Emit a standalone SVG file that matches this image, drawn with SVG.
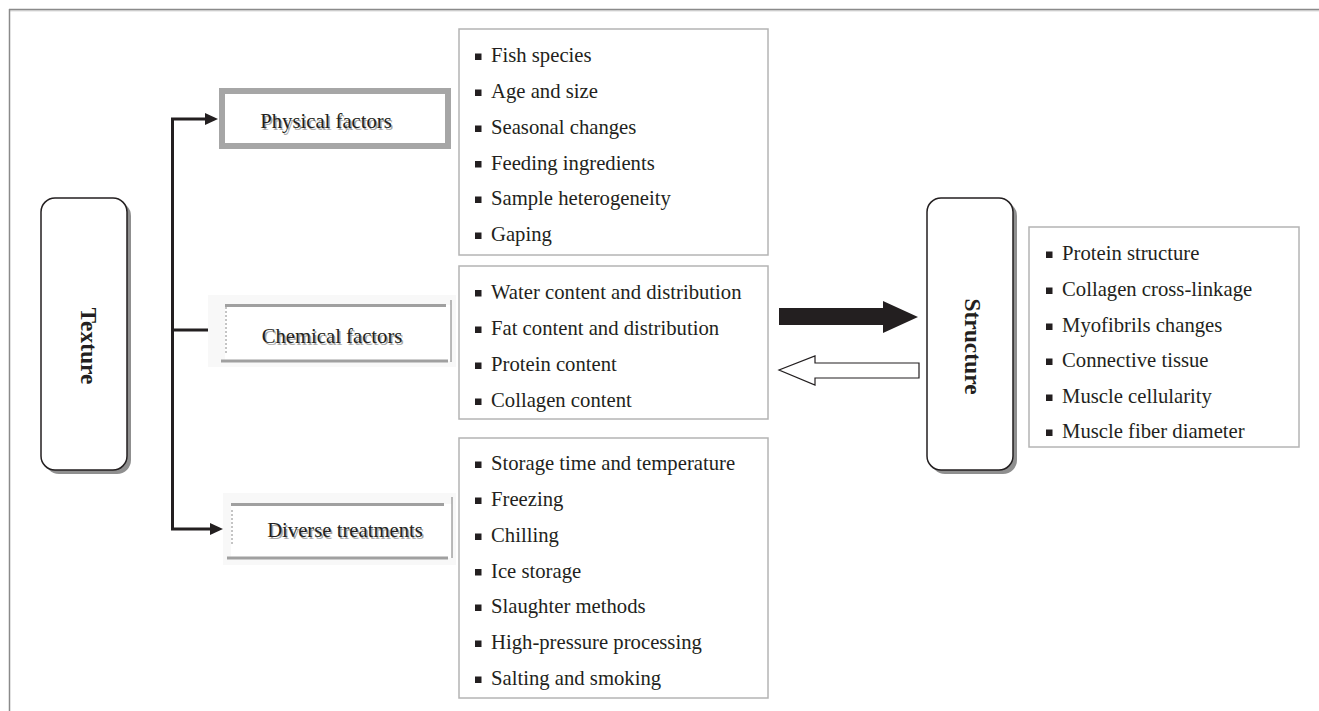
<svg xmlns="http://www.w3.org/2000/svg" width="1319" height="711" viewBox="0 0 1319 711">
<style>
  .txt { font-family: "Liberation Serif", "Times New Roman", serif; font-size: 20.7px; fill: #231f20; }
  .lbl { font-family: "Liberation Serif", "Times New Roman", serif; font-size: 20.7px; fill: #231f20; text-anchor: middle; }
  .shadow { fill: #a8a8a8; }
  .bold { font-family: "Liberation Serif", "Times New Roman", serif; font-size: 23.5px; font-weight: bold; fill: #231f20; text-anchor: middle; }
  .listbox { fill: #ffffff; stroke: #b4b4b4; stroke-width: 1.5; }
  .bullet { fill: #231f20; }
  .conn { fill: none; stroke: #231f20; stroke-width: 3; }
  .rbox { fill: #ffffff; stroke: #231f20; stroke-width: 1.5; }
  .rshadow { fill: #8f8f8f; }
  .glow { fill: #f8f8f8; }
</style>
<rect width="1319" height="711" fill="#ffffff"/>

<g id="frame">
  <line x1="9" y1="9.5" x2="1319" y2="9.5" stroke="#8a8a8a" stroke-width="1.5"/>
  <line x1="9" y1="10.8" x2="1319" y2="10.8" stroke="#c4c4c4" stroke-width="1"/>
  <line x1="9.5" y1="9" x2="9.5" y2="711" stroke="#8a8a8a" stroke-width="1.5"/>
</g>

<g id="connectors">
  <polyline class="conn" points="206,119 172.5,119 172.5,529 210,529"/>
  <line class="conn" x1="172.5" y1="330" x2="208" y2="330"/>
  <path d="M205,113 L218,119 L205,125 Z" fill="#231f20"/>
  <path d="M208,324 L221,330 L208,336 Z" fill="#231f20"/>
  <path d="M210,523 L223,529 L210,535 Z" fill="#231f20"/>
  <path d="M779,308 L883,308 L883,301 L918,317 L883,333 L883,325 L779,325 Z" fill="#231f20"/>
  <path d="M919,363 L815,363 L815,356 L779,370 L815,385 L815,378 L919,378 Z" fill="#ffffff" stroke="#231f20" stroke-width="1.2"/>
</g>

<g id="texture">
  <rect class="rshadow" x="45" y="202" width="86" height="272" rx="14"/>
  <rect class="rbox" x="41" y="198" width="86" height="272" rx="14"/>
  <text class="bold" transform="translate(80.5,346) rotate(90)" x="0" y="0">Texture</text>
</g>

<g id="physical">
  <rect x="222" y="91" width="226" height="55" fill="#ffffff" stroke="#a6a6a6" stroke-width="6"/>
  <text class="lbl shadow" x="327.5" y="129.5">Physical factors</text>
  <text class="lbl" x="326" y="128">Physical factors</text>
</g>

<g id="chemical">
  <rect class="glow" x="208" y="295" width="248" height="72"/>
  <rect x="225" y="305" width="226" height="56" fill="#ffffff"/>
  <line x1="225" y1="305.5" x2="446" y2="305.5" stroke="#a0a0a0" stroke-width="3"/>
  <line x1="221" y1="361" x2="448" y2="361" stroke="#a0a0a0" stroke-width="3"/>
  <line x1="226" y1="307" x2="226" y2="353" stroke="#8a8a8a" stroke-width="1" stroke-dasharray="2,2"/>
  <line x1="451" y1="300" x2="451" y2="362" stroke="#777" stroke-width="1"/>
  <text class="lbl shadow" x="333.5" y="344.5">Chemical factors</text>
  <text class="lbl" x="332" y="343">Chemical factors</text>
</g>

<g id="diverse">
  <rect class="glow" x="223" y="493" width="233" height="72"/>
  <rect x="231" y="504" width="221" height="54" fill="#ffffff"/>
  <line x1="231" y1="504.5" x2="444" y2="504.5" stroke="#a0a0a0" stroke-width="3"/>
  <line x1="227" y1="558" x2="448" y2="558" stroke="#a0a0a0" stroke-width="3"/>
  <line x1="232" y1="510" x2="232" y2="546" stroke="#8a8a8a" stroke-width="1" stroke-dasharray="2,2"/>
  <line x1="452" y1="497" x2="452" y2="558" stroke="#777" stroke-width="1"/>
  <text class="lbl shadow" x="346.5" y="538.5">Diverse treatments</text>
  <text class="lbl" x="345" y="537">Diverse treatments</text>
</g>

<g id="physical-list">
  <rect class="listbox" x="459" y="29" width="309" height="226"/>
  <rect class="bullet" x="475" y="53.5" width="6.5" height="6.5"/>
  <text class="txt" x="491" y="62">Fish species</text>
  <rect class="bullet" x="475" y="89.5" width="6.5" height="6.5"/>
  <text class="txt" x="491" y="98">Age and size</text>
  <rect class="bullet" x="475" y="125.5" width="6.5" height="6.5"/>
  <text class="txt" x="491" y="134">Seasonal changes</text>
  <rect class="bullet" x="475" y="161" width="6.5" height="6.5"/>
  <text class="txt" x="491" y="169.5">Feeding ingredients</text>
  <rect class="bullet" x="475" y="196.5" width="6.5" height="6.5"/>
  <text class="txt" x="491" y="205">Sample heterogeneity</text>
  <rect class="bullet" x="475" y="232.5" width="6.5" height="6.5"/>
  <text class="txt" x="491" y="241">Gaping</text>
</g>

<g id="chemical-list">
  <rect class="listbox" x="459" y="266" width="309" height="153"/>
  <rect class="bullet" x="475" y="290" width="6.5" height="6.5"/>
  <text class="txt" x="491" y="298.5">Water content and distribution</text>
  <rect class="bullet" x="475" y="326.5" width="6.5" height="6.5"/>
  <text class="txt" x="491" y="335">Fat content and distribution</text>
  <rect class="bullet" x="475" y="362.5" width="6.5" height="6.5"/>
  <text class="txt" x="491" y="371">Protein content</text>
  <rect class="bullet" x="475" y="398.5" width="6.5" height="6.5"/>
  <text class="txt" x="491" y="407">Collagen content</text>
</g>

<g id="diverse-list">
  <rect class="listbox" x="459" y="438" width="309" height="260"/>
  <rect class="bullet" x="475" y="461.5" width="6.5" height="6.5"/>
  <text class="txt" x="491" y="470">Storage time and temperature</text>
  <rect class="bullet" x="475" y="497.5" width="6.5" height="6.5"/>
  <text class="txt" x="491" y="506">Freezing</text>
  <rect class="bullet" x="475" y="533.5" width="6.5" height="6.5"/>
  <text class="txt" x="491" y="542">Chilling</text>
  <rect class="bullet" x="475" y="569" width="6.5" height="6.5"/>
  <text class="txt" x="491" y="577.5">Ice storage</text>
  <rect class="bullet" x="475" y="604.5" width="6.5" height="6.5"/>
  <text class="txt" x="491" y="613">Slaughter methods</text>
  <rect class="bullet" x="475" y="640.5" width="6.5" height="6.5"/>
  <text class="txt" x="491" y="649">High-pressure processing</text>
  <rect class="bullet" x="475" y="676.5" width="6.5" height="6.5"/>
  <text class="txt" x="491" y="685">Salting and smoking</text>
</g>

<g id="structure">
  <rect class="rshadow" x="931" y="202" width="86" height="272" rx="14"/>
  <rect class="rbox" x="927" y="198" width="86" height="272" rx="14"/>
  <text class="bold" transform="translate(965,346.5) rotate(90)" x="0" y="0">Structure</text>
</g>

<g id="structure-list">
  <rect class="listbox" x="1029" y="227" width="270" height="220"/>
  <rect class="bullet" x="1046" y="251.5" width="6.5" height="6.5"/>
  <text class="txt" x="1062" y="260">Protein structure</text>
  <rect class="bullet" x="1046" y="287.5" width="6.5" height="6.5"/>
  <text class="txt" x="1062" y="296">Collagen cross-linkage</text>
  <rect class="bullet" x="1046" y="323.5" width="6.5" height="6.5"/>
  <text class="txt" x="1062" y="332">Myofibrils changes</text>
  <rect class="bullet" x="1046" y="358.5" width="6.5" height="6.5"/>
  <text class="txt" x="1062" y="367">Connective tissue</text>
  <rect class="bullet" x="1046" y="394.5" width="6.5" height="6.5"/>
  <text class="txt" x="1062" y="403">Muscle cellularity</text>
  <rect class="bullet" x="1046" y="429.5" width="6.5" height="6.5"/>
  <text class="txt" x="1062" y="438">Muscle fiber diameter</text>
</g>
</svg>
